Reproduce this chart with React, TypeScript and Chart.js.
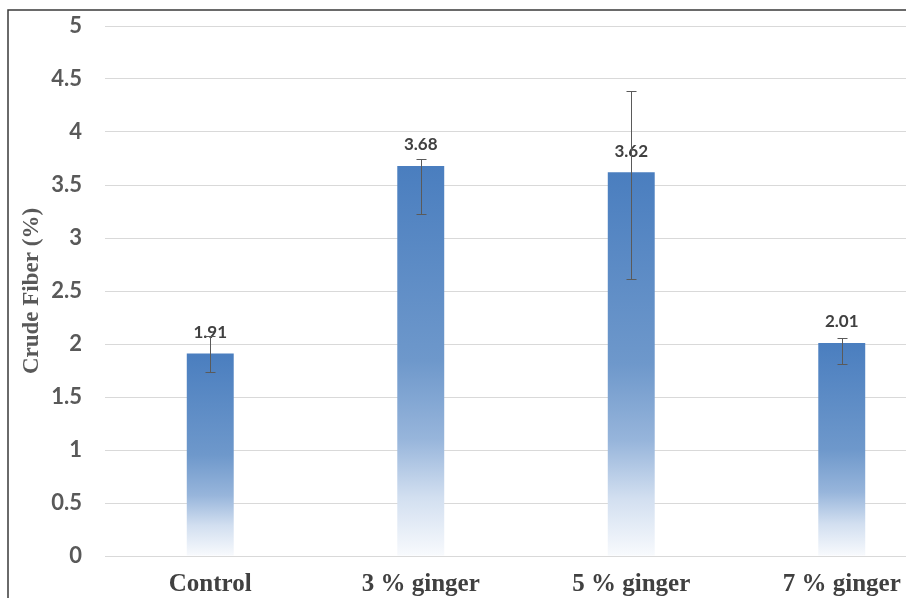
import React, { useEffect, useRef } from "react";
import { Chart, registerables } from "chart.js";

Chart.register(...registerables);

const categories = ["Control", "3 % ginger", "5 % ginger", "7 % ginger"];
const values = [1.91, 3.68, 3.62, 2.01];
const errPlus = [0.17, 0.065, 0.77, 0.05];
const errMinus = [0.17, 0.45, 1.01, 0.2];
const yTicks = [0, 0.5, 1, 1.5, 2, 2.5, 3, 3.5, 4, 4.5, 5];
const yTitle = "Crude Fiber (%)";

const W = 960;
const H = 620;

export default function App() {
  const ref = useRef<HTMLCanvasElement | null>(null);

  useEffect(() => {
    const canvas = ref.current!;
    const overlay = {
      id: "overlay",
      afterDatasetsDraw(chart: any) {
        const ctx = chart.ctx;
        const ys = chart.scales.y;
        const meta = chart.getDatasetMeta(0);
        ctx.save();
        // data labels
        ctx.font = "bold 17px Lato";
        ctx.fillStyle = "#404040";
        ctx.textAlign = "center";
        ctx.textBaseline = "middle";
        meta.data.forEach((bar: any, i: number) => {
          ctx.fillText(values[i].toFixed(2), bar.x, bar.y - 21);
        });
        // error bars
        ctx.strokeStyle = "#5a5a5a";
        ctx.lineWidth = 1;
        meta.data.forEach((bar: any, i: number) => {
          const x = Math.round(bar.x) + 0.5;
          const yt = Math.round(ys.getPixelForValue(values[i] + errPlus[i])) + 0.5;
          const yb = Math.round(ys.getPixelForValue(values[i] - errMinus[i])) + 0.5;
          ctx.beginPath();
          ctx.moveTo(x, yt);
          ctx.lineTo(x, yb);
          ctx.moveTo(x - 5, yt);
          ctx.lineTo(x + 5, yt);
          ctx.moveTo(x - 5, yb);
          ctx.lineTo(x + 5, yb);
          ctx.stroke();
        });
        ctx.restore();
      },
      afterDraw(chart: any) {
        const ctx = chart.ctx;
        ctx.save();
        ctx.strokeStyle = "#3a3a3a";
        ctx.lineWidth = 1.5;
        ctx.beginPath();
        ctx.moveTo(8, H);
        ctx.lineTo(8, 10);
        ctx.lineTo(W, 10);
        ctx.stroke();
        ctx.restore();
      },
    };

    const chart = new Chart(canvas, {
      type: "bar",
      data: {
        labels: categories,
        datasets: [
          {
            data: values,
            categoryPercentage: 1,
            barPercentage: 0.223,
            borderWidth: 0,
            backgroundColor: (c: any) => {
              const ch = c.chart;
              const ys = ch.scales?.y;
              if (!ys || c.dataIndex === undefined) return "#4a7ebf";
              const v = values[c.dataIndex];
              const top = ys.getPixelForValue(v);
              const base = ys.getPixelForValue(0);
              if (!isFinite(top) || !isFinite(base) || top === base) return "#4a7ebf";
              const g = ch.ctx.createLinearGradient(0, top, 0, base);
              g.addColorStop(0, "#4a7ebf");
              g.addColorStop(0.5, "#6e98cb");
              g.addColorStop(0.7, "#97b5db");
              g.addColorStop(0.85, "#d2dff0");
              g.addColorStop(1, "#f8fafd");
              return g;
            },
          },
        ],
      },
      options: {
        responsive: false,
        animation: false,
        devicePixelRatio: 1,
        layout: { padding: { left: 8, top: 26, right: 13, bottom: 0 } },
        plugins: {
          legend: { display: false },
          tooltip: { enabled: false },
        },
        scales: {
          x: {
            grid: { display: false, drawTicks: false },
            border: { display: false },
            ticks: {
              color: "#404040",
              font: { family: "Liberation Serif", size: 25, weight: "bold" },
              padding: 14,
              maxRotation: 0,
            },
            afterFit: (s: any) => {
              s.height = H - 556;
              s.paddingLeft = 0;
              s.paddingRight = 0;
            },
          },
          y: {
            min: 0,
            max: 5,
            afterBuildTicks: (s: any) => {
              s.ticks = yTicks.map((v) => ({ value: v }));
            },
            grid: { color: "#d9d9d9", lineWidth: 1, drawTicks: false },
            border: { display: false },
            ticks: {
              color: "#595959",
              font: { family: "Lato", size: 22, weight: "bold" },
              padding: 23,
              callback: (v: any) => String(v),
            },
            title: {
              display: true,
              text: yTitle,
              color: "#595959",
              font: { family: "Liberation Serif", size: 23, weight: "bold" },
              padding: { top: 10, bottom: 0 },
            },
            afterFit: (s: any) => {
              s.width = 97;
              s.paddingTop = 0;
              s.paddingBottom = 0;
            },
          },
        },
      },
      plugins: [overlay],
    });
    return () => chart.destroy();
  }, []);

  return (
    <div
      style={{
        position: "fixed",
        left: 0,
        top: 0,
        width: 906,
        height: 598,
        overflow: "hidden",
        background: "#fff",
      }}
    >
      <canvas ref={ref} width={W} height={H} style={{ width: W, height: H, display: "block" }} />
    </div>
  );
}
